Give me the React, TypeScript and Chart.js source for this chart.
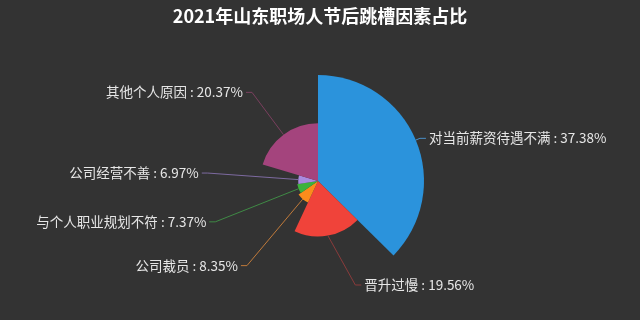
import React, { useEffect, useRef } from "react";
import { Chart, registerables } from "chart.js";

Chart.register(...registerables);

const TITLE = "2021年山东职场人节后跳槽因素占比";
const categories = ["对当前薪资待遇不满", "晋升过慢", "公司裁员", "与个人职业规划不符", "公司经营不善", "其他个人原因"];
const values = [37.38, 19.56, 8.35, 7.37, 6.97, 20.37];
const colors = ["#2b93dc", "#f0433a", "#fb8c1c", "#3db23c", "#a98adf", "#a4447d"];
const lineColors = ["#4a90c8", "#8a3b3b", "#c07a3a", "#3f8a45", "#7d6aa0", "#7a3f5e"];

const FONT = '"Noto Sans CJK SC", "Noto Sans", sans-serif';

const rosePlugin = {
  id: "rose",
  beforeDatasetsDraw(chart: any) {
    const meta = chart.getDatasetMeta(0);
    const ca = chart.chartArea;
    const maxR = Math.min(ca.right - ca.left, ca.bottom - ca.top) / 2;
    const maxV = Math.max(...values);
    meta.data.forEach((arc: any, i: number) => {
      arc.outerRadius = (maxR * values[i]) / maxV;
      arc.innerRadius = 0;
    });
  },
  afterDatasetsDraw(chart: any) {
    const ctx = chart.ctx;
    const meta = chart.getDatasetMeta(0);
    const ca = chart.chartArea;
    const maxR = Math.min(ca.right - ca.left, ca.bottom - ca.top) / 2;
    const elbowR = maxR + 4.5;
    const maxY = ca.bottom - 2;
    ctx.save();
    ctx.font = "13.5px " + FONT;
    ctx.textBaseline = "middle";
    meta.data.forEach((arc: any, i: number) => {
      const mid = (arc.startAngle + arc.endAngle) / 2;
      const cx = arc.x;
      const cy = arc.y;
      const r = arc.outerRadius;
      const dx = Math.cos(mid);
      const dy = Math.sin(mid);
      const x0 = cx + r * dx;
      const y0 = cy + r * dy;
      let ey = cy + elbowR * dy;
      let ex = cx + elbowR * dx;
      if (ey > maxY) {
        ey = maxY;
        const ddy = ey - cy;
        const w = Math.sqrt(Math.max(elbowR * elbowR - ddy * ddy, 0));
        ex = cx + (dx >= 0 ? w : -w);
      }
      const right = dx >= 0;
      const x2 = ex + (right ? 6 : -6);
      ctx.strokeStyle = lineColors[i];
      ctx.lineWidth = 1;
      ctx.beginPath();
      ctx.moveTo(x0, y0);
      ctx.lineTo(ex, ey);
      ctx.lineTo(x2, ey);
      ctx.stroke();
      ctx.fillStyle = "#e6e6e6";
      ctx.textAlign = right ? "left" : "right";
      const txt = categories[i] + " : " + values[i].toFixed(2) + "%";
      ctx.fillText(txt, x2 + (right ? 3 : -3), ey);
    });
    ctx.restore();
  },
};

const bgPlugin = {
  id: "bg",
  beforeDraw(chart: any) {
    const ctx = chart.ctx;
    ctx.save();
    ctx.fillStyle = "#333333";
    ctx.fillRect(0, 0, chart.width, chart.height);
    ctx.fillStyle = "#ffffff";
    ctx.font = "bold 18px " + FONT;
    ctx.textAlign = "center";
    ctx.textBaseline = "middle";
    ctx.fillText(TITLE, chart.width / 2, 16);
    ctx.restore();
  },
};

export default function App() {
  const ref = useRef<HTMLCanvasElement>(null);
  useEffect(() => {
    document.body.style.margin = "0";
    const chart = new Chart(ref.current!, {
      type: "doughnut",
      data: {
        labels: categories,
        datasets: [
          {
            data: values,
            backgroundColor: colors,
            borderWidth: 0,
            hoverOffset: 0,
          },
        ],
      },
      options: {
        animation: false,
        responsive: false,
        cutout: 0,
        rotation: 0,
        layout: { padding: { left: 212, right: 216, top: 75, bottom: 33 } },
        plugins: {
          legend: { display: false },
          tooltip: { enabled: false },
          title: { display: false },
        },
      },
      plugins: [bgPlugin, rosePlugin],
    });
    return () => chart.destroy();
  }, []);
  return (
    <div style={{ width: 640, height: 320 }}>
      <canvas ref={ref} width={640} height={320} style={{ display: "block" }} />
    </div>
  );
}
